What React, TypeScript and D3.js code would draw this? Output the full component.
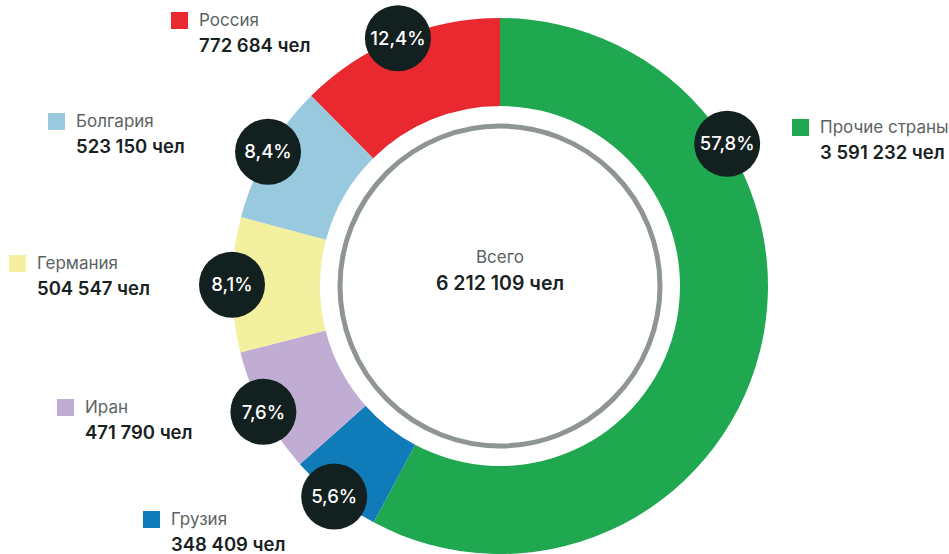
import { useEffect, useRef } from 'react';
import * as d3 from 'd3';

// order: clockwise from 12 o'clock
const countries = ['Прочие страны', 'Грузия', 'Иран', 'Германия', 'Болгария', 'Россия'];
const people = [3591232, 348409, 471790, 504547, 523150, 772684];
const shares = ['57,8%', '5,6%', '7,6%', '8,1%', '8,4%', '12,4%'];
const colors = ['#1fa84f', '#0f7bb8', '#c1acd3', '#f3f0a0', '#99c9df', '#e9292f'];
const totalPeople = 6212109;

// legend anchor (top-left of swatch) per country
const legendAt: [number, number][] = [
  [792, 119], [143, 511], [57, 399], [9, 255], [48, 113], [171, 12]
];
// the big slice gets its badge near the top-right instead of the middle
const otherBadgeAngle = 0.161 * 2 * Math.PI;

const fmt = (n: number) => d3.format(',')(n).replace(/,/g, ' ') + ' чел';

function App() {
  const svgRef = useRef<SVGSVGElement>(null);

  useEffect(() => {
    const width = 949;
    const height = 554;
    const cx = 500;
    const cy = 286;
    const outer = 268;
    const inner = 180;

    const svg = d3.select(svgRef.current);
    svg.selectAll('*').remove();
    svg.attr('width', width).attr('height', height);

    const data = countries.map((c, i) => ({ name: c, value: people[i], share: shares[i], color: colors[i] }));

    const pie = d3.pie<any>().value(d => d.value).sort(null);
    const arc = d3.arc<any>().innerRadius(inner).outerRadius(outer);
    const arcs = pie(data);

    const g = svg.append('g').attr('transform', `translate(${cx},${cy})`);

    g.selectAll('path.slice')
      .data(arcs)
      .enter()
      .append('path')
      .attr('class', 'slice')
      .attr('d', arc)
      .attr('fill', d => d.data.color);

    // gray ring inside
    g.append('circle')
      .attr('r', 160)
      .attr('fill', 'none')
      .attr('stroke', '#8f9595')
      .attr('stroke-width', 5);

    // center text
    g.append('text')
      .attr('y', -23)
      .attr('text-anchor', 'middle')
      .attr('font-family', 'Inter, sans-serif')
      .attr('font-size', 17)
      .attr('fill', '#5b6363')
      .text('Всего');
    g.append('text')
      .attr('y', 4)
      .attr('text-anchor', 'middle')
      .attr('font-family', 'Inter, sans-serif')
      .attr('font-size', 19.5)
      .attr('font-weight', 600)
      .attr('fill', '#182222')
      .text(fmt(totalPeople));

    // percentage badges
    const badges = g.selectAll('g.badge')
      .data(arcs)
      .enter()
      .append('g')
      .attr('class', 'badge')
      .attr('transform', (d, i) => {
        const a = i === 0 ? otherBadgeAngle : (d.startAngle + d.endAngle) / 2;
        return `translate(${Math.sin(a) * outer},${-Math.cos(a) * outer})`;
      });
    badges.append('circle')
      .attr('r', 33)
      .attr('fill', '#132020');
    badges.append('text')
      .attr('text-anchor', 'middle')
      .attr('dy', '0.36em')
      .attr('font-family', 'Inter, sans-serif')
      .attr('font-size', 18.5)
      .attr('font-weight', 500)
      .attr('fill', '#ffffff')
      .text(d => d.data.share);

    // legend
    const legend = svg.selectAll('g.legend')
      .data(data)
      .enter()
      .append('g')
      .attr('class', 'legend')
      .attr('transform', (d, i) => `translate(${legendAt[i][0]},${legendAt[i][1]})`);
    legend.append('rect')
      .attr('width', 17)
      .attr('height', 17)
      .attr('fill', d => d.color);
    legend.append('text')
      .attr('x', 28)
      .attr('y', 14)
      .attr('font-family', 'Inter, sans-serif')
      .attr('font-size', 17)
      .attr('fill', '#5b6363')
      .text(d => d.name);
    legend.append('text')
      .attr('x', 28)
      .attr('y', 40)
      .attr('font-family', 'Inter, sans-serif')
      .attr('font-size', 18.5)
      .attr('font-weight', 600)
      .attr('fill', '#182222')
      .text(d => fmt(d.value));
  }, []);

  return (
    <div style={{ position: 'absolute', left: 0, top: 0 }}>
      <svg ref={svgRef}></svg>
    </div>
  );
}

export default App;
